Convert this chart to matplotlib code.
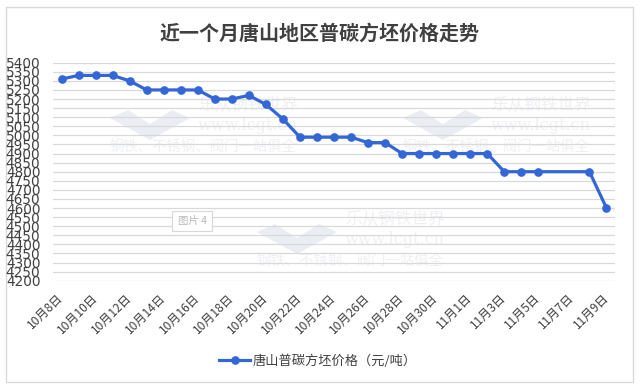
import matplotlib
matplotlib.use("Agg")
import matplotlib.pyplot as plt
from matplotlib.patches import Rectangle, Polygon

plt.rcParams['font.family'] = ['Noto Sans CJK SC', 'DejaVu Sans']

title = "近一个月唐山地区普碳方坯价格走势"
series_name = "唐山普碳方坯价格（元/吨）"
dates = ["10月8日", "10月9日", "10月10日", "10月11日", "10月12日", "10月13日", "10月14日",
         "10月15日", "10月16日", "10月17日", "10月18日", "10月19日", "10月20日", "10月21日",
         "10月22日", "10月23日", "10月24日", "10月25日", "10月26日", "10月27日", "10月28日",
         "10月29日", "10月30日", "10月31日", "11月1日", "11月2日", "11月3日", "11月4日",
         "11月5日", "11月6日", "11月7日", "11月8日", "11月9日"]
prices = [5310, 5330, 5330, 5330, 5300, 5250, 5250, 5250, 5250, 5200, 5200, 5220, 5170, 5090,
          4990, 4990, 4990, 4990, 4960, 4960, 4900, 4900, 4900, 4900, 4900, 4900, 4800, 4800,
          4800, None, None, 4800, 4600]
y_ticks = list(range(4200, 5401, 50))

W, H = 640, 387
fig = plt.figure(figsize=(W / 100, H / 100), dpi=100)
fig.patch.set_facecolor('white')

def fx(px):
    return px / W

def fy(py):
    return 1 - py / H

# outer border
fig.patches.append(Rectangle((fx(6), fy(382)), fx(633) - fx(6), fy(7) - fy(382),
                             transform=fig.transFigure, fill=False, edgecolor='#d9d9d9', lw=1.0))

# watermarks (drawn before the axes)
wm_col = '#eef0f3'
logo_col = '#eaeef4'
def watermark(x0, y0):
    pts = [(x0, y0 + 8), (x0 + 18, y0), (x0 + 40, y0 + 14), (x0 + 62, y0), (x0 + 80, y0 + 8),
           (x0 + 40, y0 + 30)]
    fig.patches.append(Polygon([(fx(a), fy(b)) for a, b in pts], closed=True,
                               transform=fig.transFigure, facecolor=logo_col, edgecolor='none',
                               zorder=0))
    fig.text(fx(x0 + 88), fy(y0 - 5), "乐从钢铁世界", fontsize=12, color=wm_col,
             ha='left', va='center', zorder=0)
    fig.text(fx(x0 + 88), fy(y0 + 16), "www.lcgt.cn", fontsize=11.5, color=wm_col,
             ha='left', va='center', family=['DejaVu Serif'], zorder=0)
    fig.text(fx(x0), fy(y0 + 37), "钢铁、不锈钢、阀门一站俱全", fontsize=10.4, color=wm_col,
             ha='left', va='center', zorder=0)

watermark(110, 110)
watermark(403, 110)
watermark(257, 224)

ax = fig.add_axes([fx(53), fy(280.7), fx(615) - fx(53), fy(62.7) - fy(280.7)])
ax.set_facecolor('none')
ax.set_zorder(2)

xs = [i for i, v in enumerate(prices) if v is not None]
ys = [v for v in prices if v is not None]
line_color = '#3366D6'
ax.plot(xs, ys, color=line_color, lw=2.3, marker='o', markersize=5.2,
        markerfacecolor=line_color, markeredgecolor=line_color, zorder=5, label=series_name)

ax.set_xlim(-0.5, len(dates) - 0.5)
ax.set_ylim(4200, 5400)
ax.set_yticks(y_ticks)
ax.set_yticklabels([str(t) for t in y_ticks], family=['Liberation Sans Narrow', 'DejaVu Sans'],
                   fontsize=9.8, color='#404040')
ax.yaxis.grid(True, color='#d9d9d9', lw=0.9)
ax.set_axisbelow(True)
ax.tick_params(axis='y', length=0, pad=9)

tick_idx = list(range(0, len(dates), 2))
ax.set_xticks(tick_idx)
ax.set_xticklabels([dates[i] for i in tick_idx], rotation=45, ha='right', va='center',
                   rotation_mode='anchor', fontsize=8.7, color='#404040')
ax.tick_params(axis='x', length=0, pad=11)
for s in ax.spines.values():
    s.set_visible(False)

fig.text(0.5, fy(33), title, ha='center', va='center', fontsize=14.4, color='#404040',
         fontweight='bold')

leg = fig.legend(loc='center', bbox_to_anchor=(fx(318), fy(361)), frameon=False,
                 fontsize=9.5, handlelength=2.3, handletextpad=0.2)
for t in leg.get_texts():
    t.set_color('#404040')

fig.text(fx(192), fy(221), "图片 4", fontsize=7.5, color='#b8b8b8', ha='center', va='center',
         zorder=3, bbox=dict(boxstyle='square,pad=0.5', fc='white', ec='#d8d8d8', lw=0.8))

fig.savefig('out.png', dpi=100, facecolor='white')
